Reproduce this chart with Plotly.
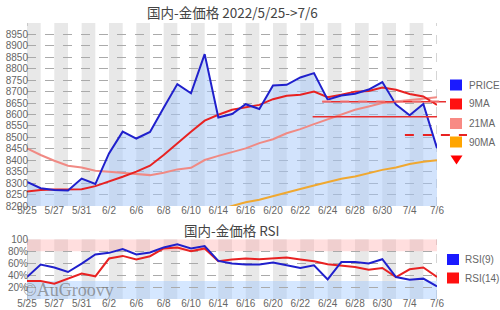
import plotly.graph_objects as go

# ---------------- data ----------------
dates = ["5/25","5/26","5/27","5/30","5/31","6/1","6/2","6/3","6/6","6/7","6/8","6/9","6/10",
         "6/13","6/14","6/15","6/16","6/17","6/20","6/21","6/22","6/23","6/24","6/27","6/28",
         "6/29","6/30","7/1","7/4","7/5","7/6"]
price = [8305, 8278, 8270, 8268, 8320, 8296, 8430, 8525, 8495, 8524, 8630, 8733, 8693, 8864, 8587,
         8602, 8645, 8624, 8727, 8730, 8762, 8781, 8665, 8683, 8691, 8709, 8742, 8643, 8597, 8646, 8453]
ma9 = [8263, 8270, 8272, 8272, 8273, 8287, 8306, 8328, 8350, 8376, 8423, 8475, 8525, 8573, 8599,
       8621, 8632, 8642, 8667, 8682, 8686, 8700, 8676, 8686, 8700, 8703, 8718, 8708, 8690, 8679, 8642]
ma21 = [8452, 8423, 8398, 8376, 8368, 8354, 8350, 8345, 8339, 8335, 8345, 8360, 8367, 8401, 8419,
        8435, 8452, 8475, 8492, 8518, 8536, 8558, 8580, 8602, 8621, 8635, 8650, 8657, 8664, 8672, 8676]
ma90 = [None]*14 + [8184, 8199, 8216, 8227, 8242, 8256, 8274, 8290, 8304, 8319, 8329, 8343, 8358,
                    8368, 8384, 8393, 8400]
rsi9 = [36.8, 57.7, 52.7, 45.2, 59.4, 74.6, 77.3, 83.5, 74.6, 78, 86.4, 91.5, 84.7, 88.6, 63.8,
        59.4, 57.7, 57.7, 61.1, 56.5, 52, 56.5, 32.9, 62.1, 62.1, 59.4, 66.7, 36.8, 32.4, 34.1, 21]
rsi14 = [30, 30, 25.7, 34.2, 42.5, 38, 67.8, 72.2, 66.2, 71.7, 84.7, 86.4, 80.2, 84.7, 63.3,
         66.2, 67.8, 66.7, 67.8, 69.5, 66.2, 63.3, 58.2, 56.5, 53.7, 49.2, 52, 36.8, 49.8, 52.7, 36.8]
# support / resistance lines: (start index, level)
line_a = (21.6, 8656)
line_b = (20.9, 8590)
line_c = (27.65, 8510)

price_ticks = list(range(8200, 9001, 50))
rsi_ticks = [20, 40, 60, 80, 100]
rsi_ticktext = ["20%", "40%", "60%", "80%", "100"]

# ---------------- layout geometry ----------------
W, H = 500, 310
L, R, T, B = 27, 63, 23, 11
main_dom = [(H - B - 206) / (H - T - B), 1.0]
rsi_dom = [0.0, (H - B - 239.3) / (H - T - B)]
YMIN, YMAX = 8200, 9000

def pxx(p):
    return (p - L) / (W - L - R)

def pxy(p):
    return (H - B - p) / (H - T - B)

def main_paper_y(v):
    return main_dom[0] + (v - YMIN) / (YMAX - YMIN) * (main_dom[1] - main_dom[0])

n = len(dates)
idx = list(range(n))

FONT = "Liberation Sans, Arial, sans-serif"
CJK = "Noto Sans CJK JP, Liberation Sans, sans-serif"

fig = go.Figure()

# price area + lines
fig.add_trace(go.Scatter(x=idx, y=price, mode="lines", fill="tozeroy",
                         fillcolor="rgba(165,200,250,0.5)", line=dict(width=0),
                         hoverinfo="skip", xaxis="x", yaxis="y"))
fig.add_trace(go.Scatter(x=idx, y=ma90, mode="lines", line=dict(color="#f0a830", width=2),
                         xaxis="x", yaxis="y"))
fig.add_trace(go.Scatter(x=idx, y=ma21, mode="lines", line=dict(color="#f08a84", width=2),
                         xaxis="x", yaxis="y"))
fig.add_trace(go.Scatter(x=idx, y=ma9, mode="lines", line=dict(color="#e82222", width=2),
                         xaxis="x", yaxis="y"))
fig.add_trace(go.Scatter(x=idx, y=price, mode="lines", line=dict(color="#2020cc", width=2),
                         xaxis="x", yaxis="y"))

# RSI
fig.add_trace(go.Scatter(x=idx, y=rsi14, mode="lines", line=dict(color="#e82222", width=2),
                         xaxis="x2", yaxis="y2"))
fig.add_trace(go.Scatter(x=idx, y=rsi9, mode="lines", line=dict(color="#2020cc", width=2),
                         xaxis="x2", yaxis="y2"))

shapes = []
# alternating gray bands
for i in range(0, n - 1, 2):
    for xr, yr in (("x", "y domain"), ("x2", "y2 domain")):
        shapes.append(dict(type="rect", xref=xr, yref=yr, x0=i, x1=i + 1, y0=0, y1=1,
                           fillcolor="#e8e8e8", line=dict(width=0), layer="below"))
# RSI zones
shapes.append(dict(type="rect", xref="x2", yref="y2", x0=0, x1=n - 1, y0=80, y1=100,
                   fillcolor="rgba(255,160,160,0.35)", line=dict(width=0), layer="below"))
shapes.append(dict(type="rect", xref="x2", yref="y2", x0=0, x1=n - 1, y0=0, y1=30,
                   fillcolor="rgba(150,195,255,0.4)", line=dict(width=0), layer="below"))
# vertical dashed edges
for xr, yr in (("x", "y domain"), ("x2", "y2 domain")):
    for xv in (0, n - 1):
        shapes.append(dict(type="line", xref=xr, yref=yr, x0=xv, x1=xv, y0=0, y1=1,
                           line=dict(color="#aaaaaa", width=1, dash="dash"), layer="below"))

# support/resistance lines
xa0 = pxx(L + line_a[0] * (W - L - R) / (n - 1))
shapes.append(dict(type="line", xref="paper", yref="paper", x0=xa0, x1=pxx(446),
                   y0=main_paper_y(line_a[1]), y1=main_paper_y(line_a[1]),
                   line=dict(color="#e83030", width=1.5)))
shapes.append(dict(type="line", xref="paper", yref="paper", x0=xa0, x1=pxx(446),
                   y0=main_paper_y(line_a[1] + 4), y1=main_paper_y(line_a[1] + 4),
                   line=dict(color="#f5a0a0", width=1.2, dash="dash")))
shapes.append(dict(type="line", xref="x", yref="y", x0=line_b[0], x1=n - 1,
                   y0=line_b[1], y1=line_b[1], line=dict(color="#e83030", width=1.5)))
xc0 = pxx(L + line_c[0] * (W - L - R) / (n - 1))
shapes.append(dict(type="line", xref="paper", yref="paper", x0=xc0, x1=pxx(467),
                   y0=main_paper_y(line_c[1]), y1=main_paper_y(line_c[1]),
                   line=dict(color="#e82222", width=2, dash="dash")))

# legend (manual)
legend_main = [("PRICE", "#1a1aff", 85), ("9MA", "#ff1010", 104), ("21MA", "#f88a84", 123.5),
               ("90MA", "#ffa500", 142)]
annotations = []
for label, col, yc in legend_main:
    shapes.append(dict(type="rect", xref="paper", yref="paper", x0=pxx(450), x1=pxx(462),
                       y0=pxy(yc + 5.5), y1=pxy(yc - 5.5), fillcolor=col, line=dict(width=0)))
    annotations.append(dict(xref="paper", yref="paper", x=pxx(467), y=pxy(yc), text=label,
                            showarrow=False, xanchor="left", yanchor="middle",
                            font=dict(family=FONT, size=10, color="#666666")))
# red down triangle
shapes.append(dict(type="path", xref="paper", yref="paper",
                   path="M %f %f L %f %f L %f %f Z" % (pxx(450.5), pxy(155.5), pxx(462.5), pxy(155.5),
                                                       pxx(456.5), pxy(164.5)),
                   fillcolor="#ff0000", line=dict(width=0)))
legend_rsi = [("RSI(9)", "#1a1aff", 259.5), ("RSI(14)", "#ff1010", 278)]
for label, col, yc in legend_rsi:
    shapes.append(dict(type="rect", xref="paper", yref="paper", x0=pxx(447), x1=pxx(459),
                       y0=pxy(yc + 5.5), y1=pxy(yc - 5.5), fillcolor=col, line=dict(width=0)))
    annotations.append(dict(xref="paper", yref="paper", x=pxx(463), y=pxy(yc), text=label,
                            showarrow=False, xanchor="left", yanchor="middle",
                            font=dict(family=FONT, size=10, color="#666666")))

# titles
annotations.append(dict(xref="paper", yref="paper", x=0.5, y=pxy(12), text="国内-金価格 2022/5/25->7/6",
                        showarrow=False, xanchor="center", yanchor="middle",
                        font=dict(family=CJK, size=13.5, color="#444444")))
annotations.append(dict(xref="paper", yref="paper", x=0.5, y=pxy(230), text="国内-金価格 RSI",
                        showarrow=False, xanchor="center", yanchor="middle",
                        font=dict(family=CJK, size=13.5, color="#444444")))
# watermark
annotations.append(dict(xref="paper", yref="paper", x=pxx(21), y=pxy(290), text="©AuGroovy",
                        showarrow=False, xanchor="left", yanchor="middle",
                        font=dict(family="Liberation Serif, DejaVu Serif, serif", size=18,
                                  color="rgba(110,110,110,0.65)")))

tickvals_x = list(range(0, n, 2))
ticktext_x = [dates[i] for i in tickvals_x]
axis_font = dict(family=FONT, size=10, color="#666666")

fig.update_layout(
    width=W, height=H, margin=dict(l=L, r=R, t=T, b=B, pad=0, autoexpand=False),
    paper_bgcolor="white", plot_bgcolor="white", showlegend=False,
    shapes=shapes, annotations=annotations,
    xaxis=dict(domain=[0, 1], range=[0, n - 1], anchor="y", tickvals=tickvals_x,
               ticktext=ticktext_x, showgrid=False, zeroline=False, ticks="",
               tickfont=axis_font, ticklabelstandoff=-3, showline=False),
    yaxis=dict(domain=main_dom, range=[YMIN, YMAX], anchor="x", tickvals=price_ticks,
               ticktext=[str(v) if v < 9000 else "" for v in price_ticks],
               showgrid=True, gridcolor="#aaaaaa", griddash="dash", gridwidth=1,
               zeroline=False, ticks="", tickfont=axis_font, ticklabelstandoff=-2),
    xaxis2=dict(domain=[0, 1], range=[0, n - 1], anchor="y2", tickvals=tickvals_x,
                ticktext=ticktext_x, showgrid=False, zeroline=False, ticks="",
                tickfont=axis_font, ticklabelstandoff=-3, showline=False),
    yaxis2=dict(domain=rsi_dom, range=[0, 100], anchor="x2", tickvals=rsi_ticks,
                ticktext=rsi_ticktext, showgrid=True, gridcolor="#aaaaaa", griddash="dash",
                gridwidth=1, zeroline=False, ticks="", tickfont=axis_font, ticklabelstandoff=-2),
)

fig.write_html("out.html")
